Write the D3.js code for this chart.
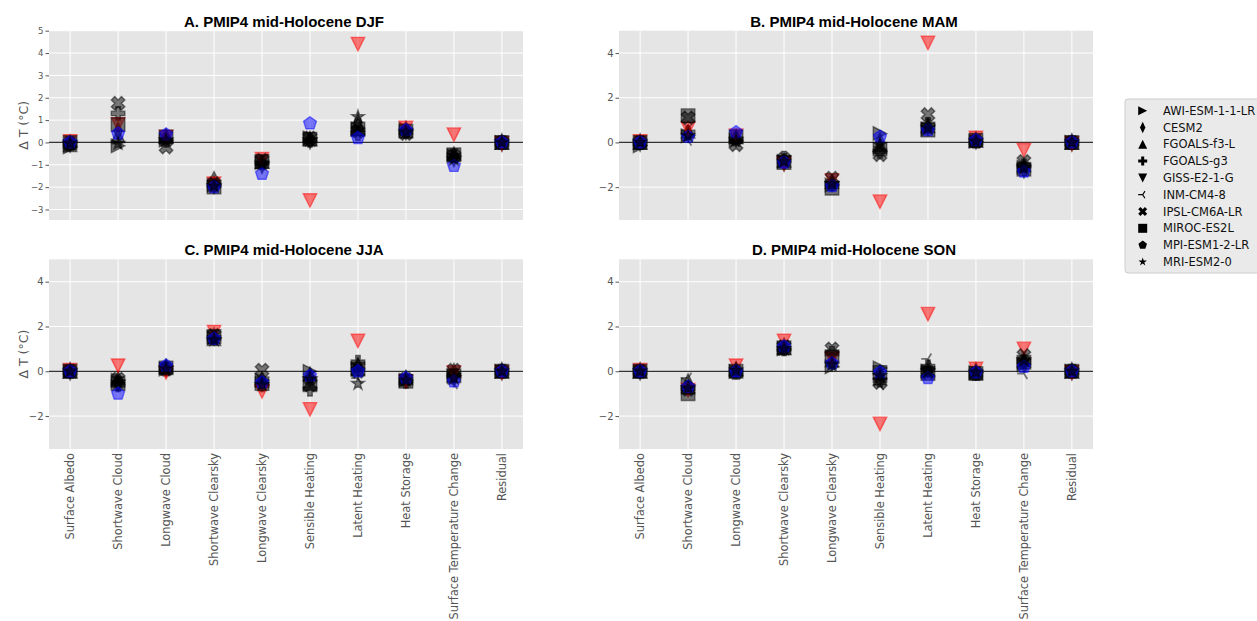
<!DOCTYPE html>
<html>
<head>
<meta charset="utf-8">
<script src="https://cdn.jsdelivr.net/npm/d3@7"></script>
<style>
  body { margin: 0; background: #fff; }
  svg { display: block; }
</style>
</head>
<body>
<div id="chart"></div>
<script>
// energy balance terms on the x axis
var categories = ["Surface Albedo", "Shortwave Cloud", "Longwave Cloud", "Shortwave Clearsky",
  "Longwave Clearsky", "Sensible Heating", "Latent Heating", "Heat Storage",
  "Surface Temperature Change", "Residual"];

var models = ["AWI-ESM-1-1-LR", "CESM2", "FGOALS-f3-L", "FGOALS-g3", "GISS-E2-1-G",
  "INM-CM4-8", "IPSL-CM6A-LR", "MIROC-ES2L", "MPI-ESM1-2-LR", "MRI-ESM2-0"];

var symbols = ["triRight", "thinDiamond", "triUp", "plus", "triDown", "triLeft", "cross", "square", "pentagon", "star"];
var colors = ["#000", "#000", "#000", "#000", "#ff0000", "#000", "#000", "#000", "#0000ff", "#000"];

// one row per model, one value per category (delta T, deg C)
var djf = [
  [-0.2, -0.15, 0.1, -1.9, -0.9, 0.2, 0.6, 0.6, -0.6, 0],
  [-0.05, 0.5, 0.2, -1.9, -1.0, 0.1, 0.9, 0.5, -0.7, 0],
  [-0.1, 0.3, 0.3, -1.6, -0.85, 0.15, 0.8, 0.65, -0.5, 0],
  [-0.05, 1.3, 0.1, -1.9, -0.9, 0.1, 0.4, 0.5, -0.6, 0],
  [0.05, 0.8, 0.25, -1.85, -0.75, -2.6, 4.4, 0.65, 0.35, -0.05],
  [-0.1, -0.05, 0.05, -1.9, -1.0, 0.1, 0.7, 0.45, -0.7, 0],
  [-0.05, 1.75, -0.2, -1.85, -0.8, 0.2, 0.5, 0.4, -0.6, 0],
  [0, 0.8, 0.25, -2.0, -0.85, 0.15, 0.6, 0.5, -0.55, 0],
  [0, 0.4, 0.35, -2.0, -1.4, 0.85, 0.2, 0.55, -1.05, 0],
  [-0.05, -0.05, 0.1, -1.95, -0.95, 0.1, 1.15, 0.45, -0.75, 0]
];
var mam = [
  [-0.15, 0.3, 0.1, -0.85, -1.9, 0.4, 0.6, 0.05, -1.1, 0],
  [0, 0.4, 0.2, -0.9, -1.8, 0.05, 0.7, 0.1, -1.2, 0],
  [0, 0.5, 0.25, -0.8, -1.75, -0.1, 0.75, 0.1, -1.0, 0],
  [0, 0.45, 0.15, -0.7, -1.85, -0.4, 0.8, 0.05, -1.05, 0],
  [0.05, 0.6, 0.3, -0.95, -1.7, -2.65, 4.45, 0.2, -0.35, -0.05],
  [-0.05, 0.1, 0.05, -0.9, -1.9, -0.2, 0.6, 0.0, -1.25, 0],
  [0, 1.1, -0.1, -0.75, -1.6, -0.55, 1.25, 0.05, -0.85, 0],
  [0, 1.2, 0.25, -0.9, -2.05, -0.3, 0.55, 0.1, -1.2, 0],
  [0, 0.25, 0.45, -0.9, -1.95, 0.25, 0.55, 0.1, -1.3, 0],
  [0, 0.3, 0.1, -0.85, -1.85, -0.1, 0.65, 0.05, -1.15, 0]
];
var jja = [
  [0, -0.4, 0.1, 1.5, -0.4, 0.0, 0.1, -0.4, -0.2, 0],
  [0, -0.5, 0.15, 1.55, -0.5, -0.3, 0.2, -0.35, -0.3, 0],
  [0, -0.3, 0.2, 1.45, -0.3, -0.1, 0.3, -0.3, 0.05, 0],
  [0, -0.6, 0.1, 1.5, -0.6, -0.8, 0.4, -0.45, -0.2, 0],
  [0.05, 0.25, -0.05, 1.75, -0.9, -1.7, 1.35, -0.45, -0.05, -0.05],
  [0, -0.45, 0.05, 1.45, -0.5, -0.4, -0.3, -0.4, -0.55, 0],
  [0, -0.35, 0.1, 1.6, 0.05, -0.6, 0.0, -0.35, 0.05, 0],
  [0, -0.55, 0.15, 1.55, -0.55, -0.55, 0.1, -0.45, -0.2, 0],
  [0, -1.0, 0.25, 1.45, -0.5, -0.2, 0.0, -0.3, -0.45, 0],
  [0, -0.5, 0.1, 1.4, -0.6, -0.35, -0.55, -0.4, -0.3, 0]
];
var son = [
  [0, -0.6, 0.0, 1.0, 0.2, 0.15, 0.0, -0.05, 0.3, 0],
  [0, -0.5, 0.05, 1.1, 0.4, -0.1, 0.1, 0.0, 0.35, 0],
  [0, -0.7, 0.1, 1.05, 0.5, -0.3, 0.05, -0.05, 0.5, 0],
  [0, -0.75, -0.05, 1.0, 0.8, -0.4, 0.2, -0.1, 0.45, 0],
  [0.05, -0.85, 0.25, 1.35, 0.55, -2.35, 2.55, 0.1, 1.0, -0.05],
  [0, -0.3, 0.0, 1.0, 0.25, -0.6, 0.55, -0.05, -0.1, 0],
  [0, -0.8, -0.05, 1.1, 1.0, -0.5, -0.05, -0.1, 0.7, 0],
  [0, -1.0, 0.0, 1.05, 0.65, -0.05, -0.1, -0.1, 0.4, 0],
  [0, -0.7, 0.0, 1.1, 0.35, -0.05, -0.3, -0.05, 0.2, 0],
  [0, -0.75, 0.05, 1.0, 0.3, -0.2, 0.0, -0.05, 0.5, 0]
];

var yTicksA = [-3, -2, -1, 0, 1, 2, 3, 4, 5];
var yTicks = [-2, 0, 2, 4];

var W = 1257, H = 621;
var svg = d3.select("#chart").append("svg").attr("width", W).attr("height", H);

var panels = [
  {title: "A. PMIP4 mid-Holocene DJF", data: djf, x0: 49, x1: 523, y0: 30.7, y1: 220, ticks: yTicksA, tickSize: 8.5, ylab: true, xlab: false},
  {title: "B. PMIP4 mid-Holocene MAM", data: mam, x0: 619, x1: 1093, y0: 30.7, y1: 220, ticks: yTicks, tickSize: 10, ylab: false, xlab: false},
  {title: "C. PMIP4 mid-Holocene JJA", data: jja, x0: 49, x1: 523, y0: 259.3, y1: 449, ticks: yTicks, tickSize: 10, ylab: true, xlab: true},
  {title: "D. PMIP4 mid-Holocene SON", data: son, x0: 619, x1: 1093, y0: 259.3, y1: 449, ticks: yTicks, tickSize: 10, ylab: false, xlab: true}
];

// marker outlines in matplotlib style, s = marker size in px
function markerPath(type, s) {
  var r = s / 2, p = d3.path();
  function poly(pts) {
    p.moveTo(pts[0][0], pts[0][1]);
    for (var i = 1; i < pts.length; i++) p.lineTo(pts[i][0], pts[i][1]);
    p.closePath();
  }
  if (type == "triRight") poly([[r, 0], [-r, -r], [-r, r]]);
  else if (type == "triUp") poly([[0, -r], [r, r], [-r, r]]);
  else if (type == "triDown") poly([[0, r], [r, -r], [-r, -r]]);
  else if (type == "square") poly([[-r, -r], [r, -r], [r, r], [-r, r]]);
  else if (type == "thinDiamond") poly([[0, -r * 1.3], [r * 0.6, 0], [0, r * 1.3], [-r * 0.6, 0]]);
  else if (type == "plus") {
    var a = [[-1, -3], [1, -3], [1, -1], [3, -1], [3, 1], [1, 1], [1, 3], [-1, 3], [-1, 1], [-3, 1], [-3, -1], [-1, -1]];
    poly(a.map(function(q) { return [q[0] * s / 6, q[1] * s / 6]; }));
  }
  else if (type == "cross") {
    var b = [[-1, -2], [0, -1], [1, -2], [2, -1], [1, 0], [2, 1], [1, 2], [0, 1], [-1, 2], [-2, 1], [-1, 0], [-2, -1]];
    poly(b.map(function(q) { return [q[0] * s / 4, q[1] * s / 4]; }));
  }
  else if (type == "pentagon") {
    poly(d3.range(5).map(function(i) {
      var t = -Math.PI / 2 + i * 2 * Math.PI / 5;
      return [r * Math.cos(t), r * Math.sin(t)];
    }));
  }
  else if (type == "star") {
    poly(d3.range(10).map(function(i) {
      var t = -Math.PI / 2 + i * Math.PI / 5, rr = i % 2 ? r * 0.382 : r;
      return [rr * Math.cos(t), rr * Math.sin(t)];
    }));
  }
  else if (type == "triLeft") {
    p.moveTo(0, 0); p.lineTo(-r, 0);
    p.moveTo(0, 0); p.lineTo(r * 0.5, -r * 0.8);
    p.moveTo(0, 0); p.lineTo(r * 0.5, r * 0.8);
  }
  return p.toString();
}

panels.forEach(function(pn) {
  var g = svg.append("g");
  var x = d3.scalePoint().domain(categories).range([pn.x0, pn.x1]).padding(0.44);
  var y = d3.scaleLinear().domain([-3.47, 5.0]).range([pn.y1, pn.y0]);

  g.append("rect").attr("x", pn.x0).attr("y", pn.y0)
    .attr("width", pn.x1 - pn.x0).attr("height", pn.y1 - pn.y0).attr("fill", "#e5e5e5");

  // grid
  g.selectAll(".hg").data(pn.ticks).enter().append("line")
    .attr("x1", pn.x0).attr("x2", pn.x1)
    .attr("y1", function(d) { return y(d); }).attr("y2", function(d) { return y(d); })
    .attr("stroke", "#fff").attr("stroke-width", 1);
  g.selectAll(".vg").data(categories).enter().append("line")
    .attr("x1", function(d) { return x(d); }).attr("x2", function(d) { return x(d); })
    .attr("y1", pn.y0).attr("y2", pn.y1)
    .attr("stroke", "#fff").attr("stroke-width", 1);

  // zero line
  g.append("line").attr("x1", pn.x0).attr("x2", pn.x1)
    .attr("y1", y(0)).attr("y2", y(0)).attr("stroke", "#333").attr("stroke-width", 1.2);

  var yAxis = g.append("g").attr("transform", "translate(" + pn.x0 + ",0)")
    .call(d3.axisLeft(y).tickValues(pn.ticks).tickSize(3.5).tickPadding(2).tickFormat(d3.format("d")));
  yAxis.select(".domain").remove();
  yAxis.selectAll("line").attr("stroke", "#555");
  yAxis.selectAll("text").attr("fill", "#555").style("font-family", "DejaVu Sans").style("font-size", pn.tickSize + "px");

  if (pn.xlab) {
    g.selectAll(".xl").data(categories).enter().append("text")
      .attr("transform", function(d) { return "translate(" + x(d) + "," + (pn.y1 + 4) + ") rotate(-90)"; })
      .attr("dy", "0.35em")
      .attr("text-anchor", "end")
      .attr("fill", "#555")
      .style("font-family", "DejaVu Sans").style("font-size", "11.4px")
      .text(function(d) { return d; });
  }

  if (pn.ylab) {
    g.append("text")
      .attr("transform", "translate(28," + ((pn.y0 + pn.y1) / 2) + ") rotate(-90)")
      .attr("text-anchor", "middle").attr("fill", "#555")
      .style("font-family", "DejaVu Sans").style("font-size", "12.5px")
      .text("Δ T (°C)");
  }

  g.append("text").attr("x", (pn.x0 + pn.x1) / 2 - 2).attr("y", pn.y0 - 4)
    .attr("text-anchor", "middle").attr("fill", "#000")
    .style("font-family", "Liberation Sans, Arial").style("font-weight", "bold").style("font-size", "15px")
    .text(pn.title);

  // points, one model after another
  pn.data.forEach(function(row, m) {
    var line = symbols[m] == "triLeft";
    g.selectAll(".m" + m).data(row).enter().append("path")
      .attr("transform", function(d, i) { return "translate(" + x(categories[i]) + "," + y(d) + ")"; })
      .attr("d", markerPath(symbols[m], 13.5))
      .attr("fill", line ? "none" : colors[m]).attr("fill-opacity", 0.5)
      .attr("stroke", colors[m]).attr("stroke-opacity", 0.5)
      .attr("stroke-width", line ? 1.8 : 1.4);
  });
});

// legend
var lg = svg.append("g").attr("transform", "translate(1125,99)");
lg.append("rect").attr("x", 0).attr("y", 0).attr("width", 140).attr("height", 174)
  .attr("rx", 3).attr("fill", "#eaeaea").attr("stroke", "#cccccc");
models.forEach(function(name, m) {
  var yy = 11.7 + m * 16.8;
  lg.append("path").attr("transform", "translate(17.7," + yy + ")")
    .attr("d", markerPath(symbols[m], 9))
    .attr("fill", symbols[m] == "triLeft" ? "none" : "#000")
    .attr("stroke", "#000").attr("stroke-width", symbols[m] == "triLeft" ? 1.2 : 0);
  lg.append("text").attr("x", 38).attr("y", yy).attr("dy", "0.35em")
    .attr("fill", "#111")
    .style("font-family", "DejaVu Sans").style("font-size", "11.5px")
    .text(name);
});
</script>
</body>
</html>
